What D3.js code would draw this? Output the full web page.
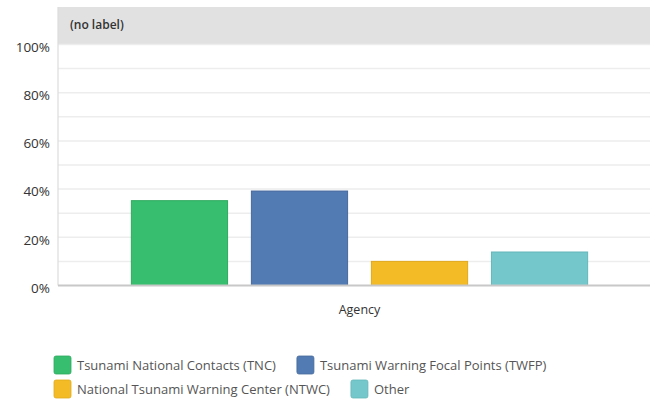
<!DOCTYPE html>
<html>
<head>
<meta charset="utf-8">
<script src="https://cdn.jsdelivr.net/npm/d3@7"></script>
<style>
  body { margin: 0; background: #fff; }
  text { font-family: "Open Sans", "DejaVu Sans", sans-serif; }
</style>
</head>
<body>
<svg id="figure" width="650" height="407"></svg>
<script>
// data
const category = "Agency";
const headerLabel = "(no label)";
const seriesNames = [
    "Tsunami National Contacts (TNC)",
    "Tsunami Warning Focal Points (TWFP)",
    "National Tsunami Warning Center (NTWC)",
    "Other"
];
const seriesValues = [35.2, 39.2, 10.0, 13.9];
const yTicks = [0, 20, 40, 60, 80, 100];
const colors = ["#37be6e", "#537bb3", "#f3bb26", "#74c8cb"];
const strokes = ["#2ea95f", "#46699c", "#e0a91c", "#63b6b9"];

const svg = d3.select("#figure");

const plot = {left: 58, right: 661, top: 44.5, bottom: 285.5, headerTop: 7};

const y = d3.scaleLinear().domain([0, 100]).range([plot.bottom, plot.top]);

const x0 = d3.scaleBand()
    .domain([category])
    .range([plot.left, plot.right])
    .paddingInner(0)
    .paddingOuter(0.128);

const x1 = d3.scaleBand()
    .domain(seriesNames)
    .range([0, x0.bandwidth()])
    .paddingInner(0.19)
    .paddingOuter(0.095);

// header band
svg.append("rect")
    .attr("x", plot.left)
    .attr("y", plot.headerTop)
    .attr("width", plot.right - plot.left)
    .attr("height", plot.top - plot.headerTop)
    .attr("fill", "#e1e1e1");

svg.append("text")
    .attr("x", plot.left + 12)
    .attr("y", plot.headerTop + 22)
    .attr("font-size", 12)
    .attr("font-weight", 600)
    .attr("fill", "#333")
    .text(headerLabel);

// gridlines, every 10%
const grid = d3.range(10, 101, 10);
svg.append("g")
    .selectAll("line")
    .data(grid)
    .join("line")
    .attr("x1", plot.left)
    .attr("x2", plot.right)
    .attr("y1", d => y(d))
    .attr("y2", d => y(d))
    .attr("stroke", "#ededed")
    .attr("stroke-width", 1.5);

// left border
svg.append("line")
    .attr("x1", plot.left).attr("x2", plot.left)
    .attr("y1", plot.headerTop).attr("y2", plot.bottom)
    .attr("stroke", "#dcdcdc")
    .attr("stroke-width", 1.2);

// y axis labels
const yAxis = svg.append("g")
    .attr("transform", "translate(" + plot.left + ",0)")
    .call(d3.axisLeft(y).tickValues(yTicks).tickSize(0).tickPadding(8)
        .tickFormat(d => d + "%"));
yAxis.select(".domain").remove();
yAxis.selectAll("text")
    .attr("font-size", 13.5)
    .attr("fill", "#333")
    .attr("font-family", "'Open Sans', sans-serif")
    .attr("dy", "0.5em");

// bars
svg.append("g")
    .selectAll("rect")
    .data(seriesNames)
    .join("rect")
    .attr("x", d => x0(category) + x1(d) + 0.5)
    .attr("y", (d, i) => y(seriesValues[i]))
    .attr("width", x1.bandwidth() - 1)
    .attr("height", (d, i) => y(0) - y(seriesValues[i]))
    .attr("fill", (d, i) => colors[i])
    .attr("stroke", (d, i) => strokes[i])
    .attr("stroke-width", 1);

// baseline
svg.append("line")
    .attr("x1", plot.left).attr("x2", plot.right)
    .attr("y1", y(0)).attr("y2", y(0))
    .attr("stroke", "#c8c8c8")
    .attr("stroke-width", 2);

// category label
svg.append("text")
    .attr("x", x0(category) + x0.bandwidth() / 2)
    .attr("y", 314)
    .attr("text-anchor", "middle")
    .attr("font-size", 12.5)
    .attr("fill", "#333")
    .text(category);

// legend, flowing left to right and wrapping
const legend = svg.append("g");
let lx = 54, ly = 356;
const maxX = 600, rowH = 24;
seriesNames.forEach((name, i) => {
    const g = legend.append("g");
    g.append("rect")
        .attr("width", 17).attr("height", 18)
        .attr("rx", 2)
        .attr("fill", colors[i])
        .attr("stroke", strokes[i])
        .attr("stroke-width", 0.8);
    const t = g.append("text")
        .attr("x", 23)
        .attr("y", 14)
        .attr("font-size", 13)
        .attr("fill", "#555")
        .text(name);
    const w = 23 + t.node().getComputedTextLength();
    if (lx + w > maxX && lx > 54) {
        lx = 54;
        ly += rowH;
    }
    g.attr("transform", "translate(" + lx + "," + ly + ")");
    lx += w + 21;
});
</script>
</body>
</html>
